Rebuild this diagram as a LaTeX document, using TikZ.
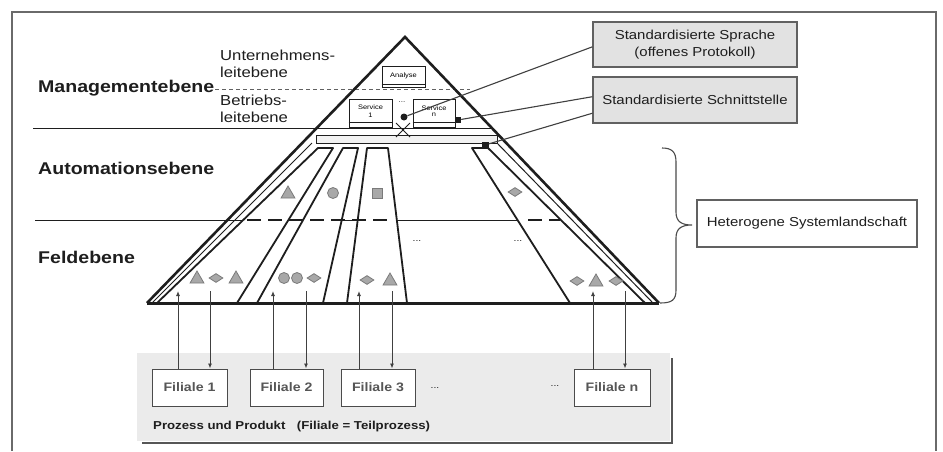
\documentclass[tikz,border=0pt]{standalone}
\usepackage{fontspec}
\setmainfont{Liberation Sans}[FakeStretch=1.15]
\usetikzlibrary{calc,shapes.geometric,arrows.meta}
\definecolor{ink}{HTML}{1E1E1E}
\definecolor{framec}{HTML}{6A6A6A}
\definecolor{boxfill}{HTML}{E2E2E2}
\definecolor{panelc}{HTML}{EBEBEB}
\definecolor{symfill}{HTML}{A8A8A8}
\definecolor{symline}{HTML}{7A7A7A}
\tikzset{
  bigl/.style={font=\fontsize{17}{19}\selectfont\bfseries, text=ink, anchor=west, inner sep=0},
  smalll/.style={font=\fontsize{14.5}{17}\selectfont, text=ink, anchor=west, align=left, inner sep=0},
  callout/.style={draw=ink!70, line width=1.2pt, fill=boxfill, font=\fontsize{13}{17}\selectfont, align=center, inner sep=0, text=ink},
  filbox/.style={draw=ink!80, line width=1pt, fill=white, font=\fontsize{12.3}{15}\selectfont\bfseries, inner sep=0, text=ink!75},
  minibox/.style={draw=ink, line width=0.8pt, fill=white, font=\fontsize{6.5}{7.5}\selectfont, align=center, inner sep=0},
  tri/.style={regular polygon, regular polygon sides=3, minimum size=16pt, inner sep=0, fill=symfill, draw=symline, line width=0.8pt},
  dia/.style={diamond, minimum width=14pt, minimum height=9pt, inner sep=0, fill=symfill, draw=symline, line width=0.8pt},
  circ/.style={circle, minimum size=11pt, inner sep=0, fill=symfill, draw=symline, line width=0.8pt},
  sqr/.style={rectangle, minimum size=10pt, inner sep=0, fill=symfill, draw=symline, line width=0.8pt},
  sect/.style={draw=ink, line width=1.8pt, line join=round, fill=white},
  arr/.style={draw=ink!85, line width=0.9pt, -{Latex[length=5pt,width=4pt]}},
  lead/.style={draw=ink!85, line width=1.1pt},
  dots/.style={font=\fontsize{9}{10}\selectfont, text=ink, inner sep=0},
  blk/.style={fill=ink, inner sep=0, rectangle}
}
\begin{document}
\begin{tikzpicture}[x=1pt,y=-1pt]
\useasboundingbox (0,0) rectangle (943,451);
\fill[white] (0,0) rectangle (943,451);
% frame
\draw[framec, line width=2.2pt] (12,451) -- (12,12) -- (936,12) -- (936,451);

% level lines
\draw[ink!70, line width=1pt, dash pattern=on 4pt off 3pt] (215,89) -- (470,89);
\draw[ink, line width=1pt] (33,128) -- (492,128);
\draw[ink, line width=1pt] (35,220) -- (561,220);

% level labels
\node[bigl] (lmgmt) at (38,88) {Managementebene};
\node[bigl] (lauto) at (38,168) {Automationsebene};
\node[bigl] (lfeld) at (38,257) {Feldebene};
\node[smalll] (lunt) at (220,63.5) {Unternehmens-\\leitebene};
\node[smalll] (lbet) at (220,109) {Betriebs-\\leitebene};

% panel
\fill[panelc] (137,353) rectangle (670,441);
\draw[ink!75, line width=2.5pt] (672,358) -- (672,443) -- (142,443);

% pyramid
\draw[ink, line width=2.6pt, line join=miter] (147,303) -- (405,37) -- (659,303);
\draw[ink, line width=1pt] (312,143) -- (152,303);
\draw[ink, line width=1pt] (497,143) -- (653,303);

% bar
\draw[ink, line width=1pt, fill=gray!10] (316,135) rectangle (497,143);

% sections
\draw[sect] (318,148) -- (333,148) -- (237,303) -- (157,303) -- cycle;
\draw[sect] (343,148) -- (358,148) -- (323,303) -- (257,303) -- cycle;
\draw[sect] (367,148) -- (388,148) -- (407,303) -- (347,303) -- cycle;
\draw[sect] (472,148) -- (488,148) -- (645,303) -- (570,303) -- cycle;

% heavy dashes
\draw[ink, line width=2.2pt, dash pattern=on 14pt off 7pt] (247,220) -- (392,220);
\draw[ink, line width=2.2pt, dash pattern=on 14pt off 7pt] (528,220) -- (560,220);

% base
\draw[ink, line width=3pt] (147,303) -- (659,303);

% symbols
\node[tri] (s1t) at (288,194) {};
\node[circ] (s2t) at (333,193) {};
\node[sqr] (s3t) at (377,193) {};
\node[dia] (s4t) at (515,192) {};
\node[tri] (s1a) at (197,279) {};
\node[dia] (s1b) at (216,278) {};
\node[tri] (s1c) at (236,279) {};
\node[circ] (s2a) at (284,278) {};
\node[circ] (s2b) at (297,278) {};
\node[dia] (s2c) at (314,278) {};
\node[dia] (s3a) at (367,280) {};
\node[tri] (s3b) at (390,281) {};
\node[dia] (s4a) at (577,281) {};
\node[tri] (s4b) at (596,282) {};
\node[dia] (s4c) at (616,281) {};

% dots
\node[dots] (d1) at (417,241) {...};
\node[dots] (d2) at (518,241) {...};
\node[dots] (d3) at (435,388) {...};
\node[dots] (d4) at (555,386) {...};
\node[dots, font=\fontsize{7}{8}\selectfont] (d5) at (402,102) {...};

% top boxes
\node[minibox, minimum width=43pt, minimum height=21pt] (ana) at (403.5,77) {\raisebox{3pt}{Analyse}};
\draw[ink, line width=0.7pt] (ana.south west) ++(0,-4) -- ++(43,0);
\node[minibox, minimum width=43pt, minimum height=28pt] (sv1) at (370.5,113) {\raisebox{4pt}{\shortstack{Service\\1}}};
\draw[ink, line width=0.7pt] (sv1.south west) ++(0,-5) -- ++(43,0);
\node[minibox, minimum width=42pt, minimum height=28pt] (svn) at (434,113) {\raisebox{4pt}{\shortstack{Service\\n}}};
\draw[ink, line width=0.7pt] (svn.south west) ++(0,-5) -- ++(42,0);

\node[circle, fill=ink, inner sep=0, minimum size=7pt] (dot1) at (404,117) {};
\node[blk, minimum size=6pt] (sq1) at (458,120) {};
\node[blk, minimum size=7pt] (sq2) at (485,145) {};
\coordinate (xc) at (403,130);
\draw[ink, line width=0.9pt] ($(xc)+(-7,-7)$) -- ($(xc)+(7,7)$);
\draw[ink, line width=0.9pt] ($(xc)+(7,-7)$) -- ($(xc)+(-7,7)$);

% callouts
\node[callout, minimum width=204pt, minimum height=45pt] (spr) at (695,44.5) {Standardisierte Sprache\\(offenes Protokoll)};
\node[callout, minimum width=204pt, minimum height=46pt] (sch) at (695,100) {Standardisierte Schnittstelle};
\node[callout, fill=white, minimum width=220pt, minimum height=47pt] (het) at (807,223.5) {Heterogene Systemlandschaft};

\draw[lead] ($(spr.north west)!0.55!(spr.south west)$) -- (dot1);
\draw[lead] ($(sch.north west)!0.43!(sch.south west)$) -- (sq1);
\draw[lead] ($(sch.north west)!0.78!(sch.south west)$) -- (sq2);

% brace
\draw[ink!80, line width=1.1pt] (662,148) .. controls (672,148) and (676,152) .. (676,162) -- (676,212)
  .. controls (676,222) and (682,225) .. (692,225) .. controls (682,225) and (676,228) .. (676,238)
  -- (676,290) .. controls (676,300) and (672,303) .. (660,303);

% Filiale boxes
\node[filbox, minimum width=75pt, minimum height=37pt] (f1) at (189.5,387.5) {Filiale 1};
\node[filbox, minimum width=73pt, minimum height=37pt] (f2) at (286.5,387.5) {Filiale 2};
\node[filbox, minimum width=74pt, minimum height=37pt] (f3) at (378,387.5) {Filiale 3};
\node[filbox, minimum width=76pt, minimum height=37pt] (fn) at (612,387.5) {Filiale n};

\node[anchor=west, inner sep=0, font=\fontsize{11.5}{13}\selectfont\bfseries, text=ink] (proz) at (153,427) {Prozess und Produkt\quad(Filiale = Teilprozess)};

% arrows
\coordinate (u1) at (178,291); \coordinate (v1) at (210,291);
\coordinate (u2) at (273,291); \coordinate (v2) at (306,291);
\coordinate (u3) at (359,291); \coordinate (v3) at (392,291);
\coordinate (un) at (593,291); \coordinate (vn) at (625,291);
\draw[arr] (f1.north -| u1) -- (u1);
\draw[arr] (v1) -- (f1.north -| v1);
\draw[arr] (f2.north -| u2) -- (u2);
\draw[arr] (v2) -- (f2.north -| v2);
\draw[arr] (f3.north -| u3) -- (u3);
\draw[arr] (v3) -- (f3.north -| v3);
\draw[arr] (fn.north -| un) -- (un);
\draw[arr] (vn) -- (fn.north -| vn);
\end{tikzpicture}
\end{document}
